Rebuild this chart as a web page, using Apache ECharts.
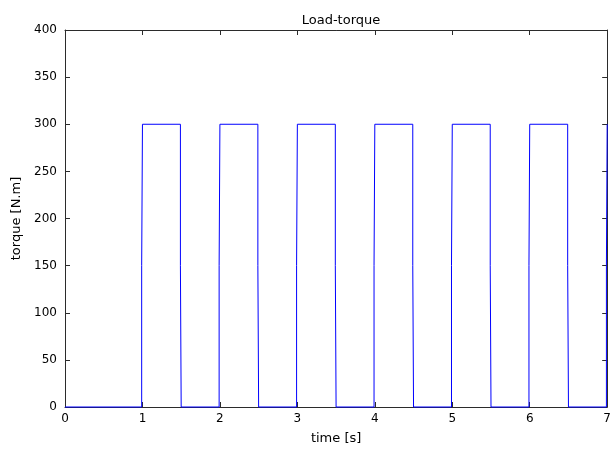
<!DOCTYPE html>
<html>
<head>
<meta charset="utf-8">
<title>Load-torque</title>
<script src="https://cdn.jsdelivr.net/npm/echarts@6/dist/echarts.min.js"></script>
<style>
  html, body { margin: 0; padding: 0; background: #ffffff; }
  #chart { width: 614px; height: 450px; }
</style>
</head>
<body>
<div id="chart"></div>
<script>
// Breakpoints of the load-torque profile: time [s] and torque [N.m]
const timeSec = [
  0, 0.99, 0.99, 1.00, 1.00, 1.49, 1.49, 1.50, 1.50,
  1.99, 1.99, 2.00, 2.00, 2.49, 2.49, 2.50, 2.50,
  2.99, 2.99, 3.00, 3.00, 3.49, 3.49, 3.50, 3.50,
  3.99, 3.99, 4.00, 4.00, 4.49, 4.49, 4.50, 4.50,
  4.99, 4.99, 5.00, 5.00, 5.49, 5.49, 5.50, 5.50,
  5.99, 5.99, 6.00, 6.00, 6.49, 6.49, 6.50, 6.50,
  6.99, 6.99, 7.00, 7.00
];
const torqueNm = [
  0, 0, 150, 150, 300, 300, 150, 150, 0,
  0, 150, 150, 300, 300, 150, 150, 0,
  0, 150, 150, 300, 300, 150, 150, 0,
  0, 150, 150, 300, 300, 150, 150, 0,
  0, 150, 150, 300, 300, 150, 150, 0,
  0, 150, 150, 300, 300, 150, 150, 0,
  0, 150, 150, 300
];

// Axis ranges and tick spacing
const xRange = [0, 7];
const xStep = 1;
const yRange = [0, 400];
const yStep = 50;

const points = timeSec.map((t, i) => [t, torqueNm[i]]);

const font = 'DejaVu Sans, Verdana, sans-serif';
const axisColor = '#2b2b2b';

function boxAxis(extra) {
  return Object.assign({
    type: 'value',
    axisLine: { show: true, onZero: false, lineStyle: { color: axisColor, width: 1 } },
    axisTick: { show: true, inside: true, length: 5, lineStyle: { color: axisColor } },
    splitLine: { show: false },
    axisLabel: { show: false }
  }, extra);
}

const chart = echarts.init(document.getElementById('chart'), null, { renderer: 'canvas' });
chart.setOption({
  animation: false,
  backgroundColor: '#ffffff',
  title: {
    text: 'Load-torque',
    left: 336, top: 9, textAlign: 'center',
    textStyle: { fontFamily: font, fontSize: 13, fontWeight: 'normal', color: '#000' }
  },
  grid: { left: 65, right: 4, top: 30, bottom: 42, containLabel: false },
  xAxis: [
    boxAxis({
      min: xRange[0], max: xRange[1], interval: xStep, position: 'bottom',
      name: 'time [s]', nameLocation: 'middle', nameGap: 25,
      nameTextStyle: { fontFamily: font, fontSize: 13, color: '#000' },
      axisLabel: { show: true, margin: 6, fontFamily: font, fontSize: 12, color: '#000' }
    }),
    boxAxis({ min: xRange[0], max: xRange[1], interval: xStep, position: 'top' })
  ],
  yAxis: [
    boxAxis({
      min: yRange[0], max: yRange[1], interval: yStep, position: 'left',
      name: 'torque [N.m]', nameLocation: 'middle', nameGap: 40, nameRotate: 90,
      nameTextStyle: { fontFamily: font, fontSize: 13, color: '#000' },
      axisLabel: { show: true, margin: 8, fontFamily: font, fontSize: 12, color: '#000' }
    }),
    boxAxis({ min: yRange[0], max: yRange[1], interval: yStep, position: 'right' })
  ],
  series: [{
    type: 'line',
    data: points,
    xAxisIndex: 0,
    yAxisIndex: 0,
    showSymbol: false,
    clip: false,
    lineStyle: { color: '#0000ff', width: 1 },
    z: 5
  }]
});
</script>
</body>
</html>
